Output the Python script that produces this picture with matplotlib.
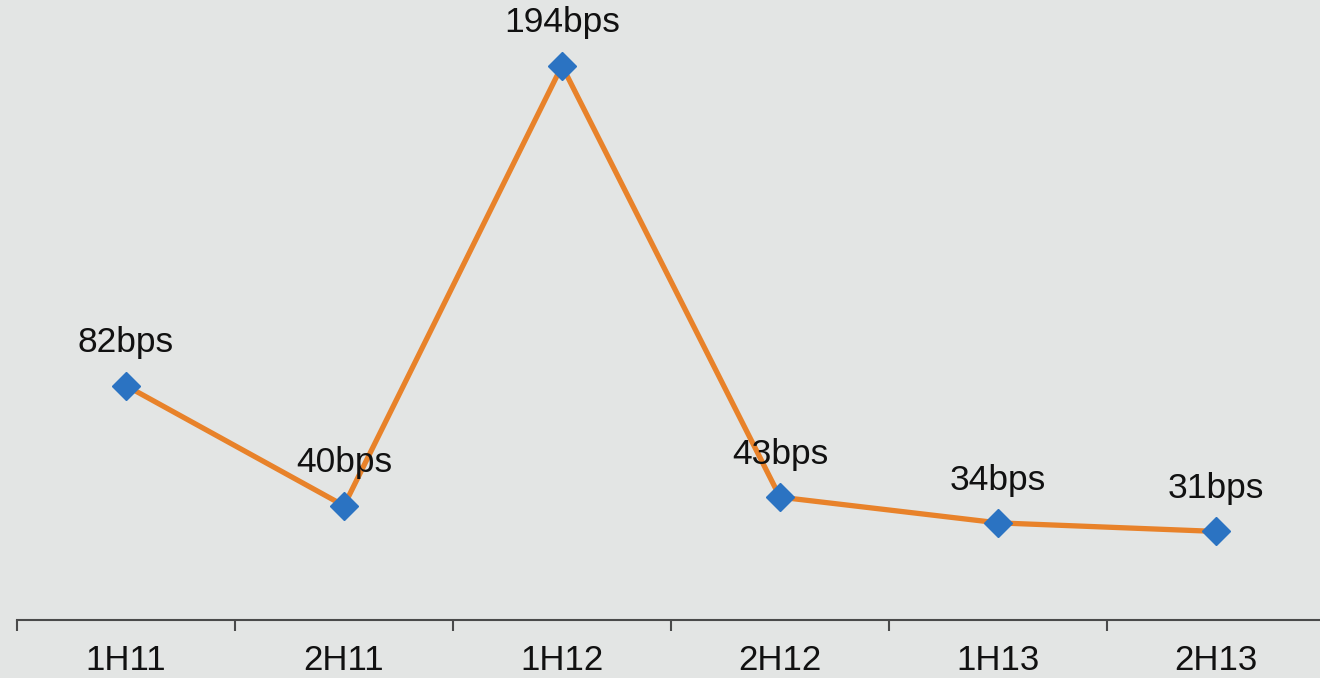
import matplotlib
matplotlib.use("Agg")
import matplotlib.pyplot as plt
from matplotlib.ticker import FixedLocator

periods = ["1H11", "2H11", "1H12", "2H12", "1H13", "2H13"]
spread_bps = [82, 40, 194, 43, 34, 31]
value_labels = ["82bps", "40bps", "194bps", "43bps", "34bps", "31bps"]

W, H = 1320, 678
bg = "#e3e5e4"

plt.rcParams["font.family"] = ["Liberation Sans", "DejaVu Sans"]

fig = plt.figure(figsize=(W / 100, H / 100), dpi=100, facecolor=bg)
ax = fig.add_axes([17 / W, (H - 620) / H, 1308 / W, 620 / H])
ax.set_facecolor(bg)

x = list(range(len(periods)))
ax.plot(x, spread_bps, color="#e8822a", linewidth=3.8, zorder=2,
        solid_capstyle="round")
ax.plot(x, spread_bps, linestyle="none", marker="D", markersize=14.5,
        markerfacecolor="#2b73c2", markeredgecolor="#2b73c2", zorder=3)

for xi, yi, lab in zip(x, spread_bps, value_labels):
    ax.annotate(lab, (xi, yi), xytext=(0, 24), textcoords="offset points",
                ha="center", va="baseline", fontsize=25.5, color="#111111")

ax.set_xlim(-0.5, len(periods) - 0.5)
ax.set_ylim(0, 217)

for side in ("top", "right", "left"):
    ax.spines[side].set_visible(False)
ax.spines["bottom"].set_color("#4a4a4a")
ax.spines["bottom"].set_linewidth(1.5)

ax.set_yticks([])
ax.set_xticks(x)
ax.set_xticklabels(periods, fontsize=25, color="#111111")
ax.tick_params(axis="x", which="major", length=0, pad=17)
ax.xaxis.set_minor_locator(FixedLocator([i - 0.5 for i in range(len(periods) + 1)]))
ax.tick_params(axis="x", which="minor", length=8, width=1.5, color="#4a4a4a",
               direction="out")

fig.savefig("out.png", dpi=100, facecolor=bg)
